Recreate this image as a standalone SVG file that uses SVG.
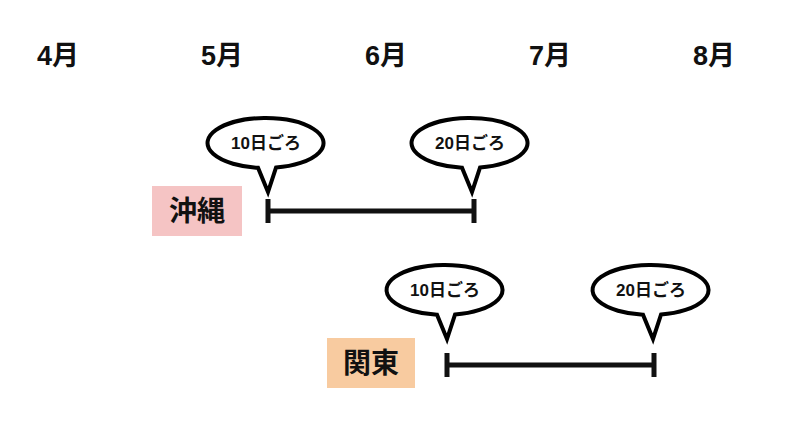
<svg xmlns="http://www.w3.org/2000/svg" width="800" height="445" viewBox="0 0 800 445">
<style>
text{font-family:"Liberation Sans","Noto Sans CJK JP",sans-serif;font-weight:bold;fill:#111;text-anchor:middle}
.m{font-size:27px}
.lbl{font-size:28px}
.b{font-size:17px}
.bubble{fill:#fff;stroke:#000;stroke-width:4;stroke-linejoin:miter}
.bar{stroke:#111;stroke-width:5;fill:none}
</style>
<defs>
<path id="bub" class="bubble" d="M -8,24.8 A 58 25 0 1 1 10,24.6 L 2,49 Z"/>
</defs>
<rect width="800" height="445" fill="#fff"/>
<g id="months">
<text class="m" x="58" y="65">4月</text>
<text class="m" x="222" y="65">5月</text>
<text class="m" x="386" y="65">6月</text>
<text class="m" x="550" y="65">7月</text>
<text class="m" x="714" y="65">8月</text>
</g>
<g id="okinawa">
<rect x="152" y="186" width="90" height="50" fill="#f5c4c4"/>
<text class="lbl" x="197" y="221">沖縄</text>
</g>
<g id="kanto">
<rect x="327" y="338" width="88" height="50" fill="#f8cba0"/>
<text class="lbl" x="371" y="373">関東</text>
</g>
<g id="connectors">
<path class="bar" d="M268,211H474M268,199V223M474,199V223"/>
<path class="bar" d="M447,365H654M447,353V377M654,353V377"/>
</g>
<g id="okinawa-start">
<use href="#bub" x="266" y="143"/>
<text class="b" x="266" y="149">10日ごろ</text>
</g>
<g id="okinawa-end">
<use href="#bub" x="470" y="143"/>
<text class="b" x="470" y="149">20日ごろ</text>
</g>
<g id="kanto-start">
<use href="#bub" x="445" y="290"/>
<text class="b" x="445" y="296">10日ごろ</text>
</g>
<g id="kanto-end">
<use href="#bub" x="651" y="290"/>
<text class="b" x="651" y="296">20日ごろ</text>
</g>
</svg>
